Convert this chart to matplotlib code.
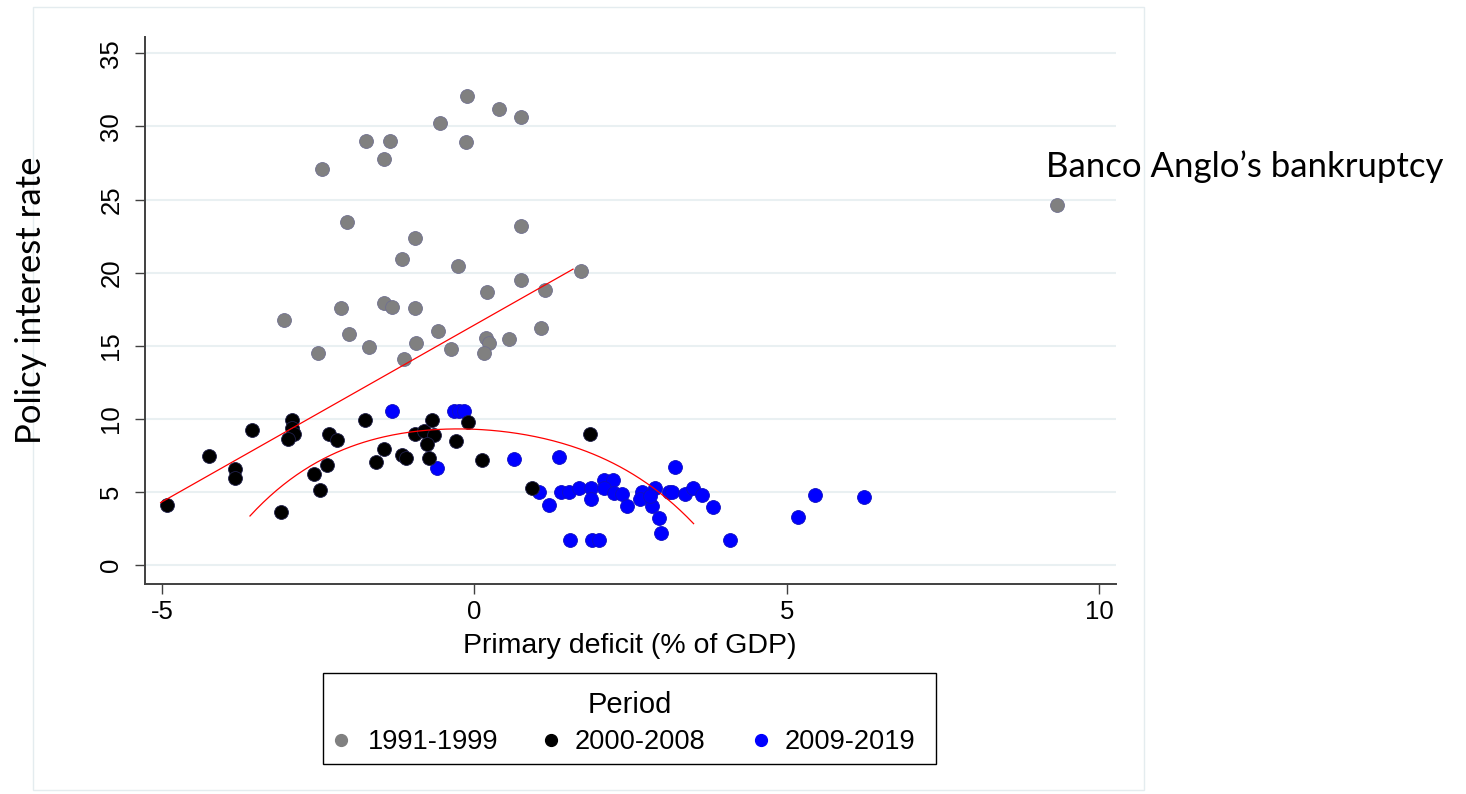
import numpy as np
import matplotlib.pyplot as plt
from matplotlib.patches import Rectangle
from matplotlib.lines import Line2D

plt.rcParams['font.family'] = ['Liberation Sans', 'DejaVu Sans']
plt.rcParams['axes.unicode_minus'] = False

# primary deficit (% of GDP) vs policy rate, by period
gray_x = [-0.12, 0.39, 0.75, -0.55, -1.73, -1.35, -0.14, -1.45, -2.44, -2.04, 0.75, -0.95,
          -1.16, -0.26, 1.70, 0.74, 0.20, 1.13, -2.14, -1.45, -1.31, -0.95, -3.04, -2.00,
          -0.58, 1.07, -1.69, -0.94, 0.19, 0.24, 0.56, -2.50, -1.13, -0.37, 0.16, 9.33]
gray_y = [32.06, 31.17, 30.65, 30.20, 28.99, 28.99, 28.94, 27.76, 27.08, 23.49, 23.17, 22.40,
          20.92, 20.46, 20.12, 19.51, 18.67, 18.80, 17.58, 17.96, 17.67, 17.58, 16.78, 15.80,
          16.00, 16.23, 14.94, 15.19, 15.53, 15.19, 15.50, 14.51, 14.12, 14.78, 14.51, 24.62]

black_x = [-4.91, -4.24, -3.83, -3.83, -3.56, -2.92, -2.92, -2.88, -2.98, -3.09, -2.57, -2.47,
           -2.35, -2.32, -2.20, -1.75, -1.58, -1.44, -1.16, -1.09, -0.95, -0.80, -0.67, -0.64,
           -0.76, -0.72, -0.30, -0.10, 0.13, 0.92, 1.85]
black_y = [4.14, 7.50, 6.59, 5.98, 9.23, 9.94, 9.39, 8.94, 8.66, 3.64, 6.25, 5.16,
           6.87, 9.00, 8.59, 9.96, 7.07, 7.98, 7.57, 7.30, 8.98, 9.21, 9.94, 8.89,
           8.32, 7.30, 8.50, 9.78, 7.18, 5.25, 8.98]

blue_x = [-1.31, -0.33, -0.25, -0.17, -0.60, 0.64, 1.36, 1.03, 1.19, 1.53, 1.88, 1.99,
          1.38, 1.51, 1.67, 1.86, 1.86, 2.07, 2.22, 2.07, 2.23, 2.36, 2.45, 2.69,
          2.66, 2.85, 2.90, 2.82, 2.96, 2.99, 3.11, 3.17, 3.21, 3.38, 3.50, 3.64,
          3.82, 4.09, 5.18, 5.46, 6.23]
blue_y = [10.57, 10.57, 10.57, 10.57, 6.62, 7.25, 7.43, 5.00, 4.09, 1.75, 1.75, 1.75,
          5.00, 5.00, 5.30, 5.30, 4.50, 5.80, 5.80, 5.30, 4.96, 4.84, 4.05, 5.00,
          4.50, 4.05, 5.30, 4.73, 3.20, 2.23, 5.00, 5.00, 6.75, 4.89, 5.30, 4.77,
          4.00, 1.75, 3.30, 4.77, 4.64]

periods = ['1991-1999', '2000-2008', '2009-2019']
period_colors = ['#808080', '#000000', '#0000ff']

# fitted lines: straight line (1991-2008) and curved fit (2000-2019)
lin_coef = [2.418, 16.42]
lin_range = (-5.02, 1.58)
curve_center = -0.26
curve_coef = [-0.012, 0.0167, -0.348, 0.0, 9.32]
curve_range = (-3.59, 3.51)

xticks = [-5, 0, 5, 10]
yticks = [0, 5, 10, 15, 20, 25, 30, 35]

W, H = 1466, 794
fig = plt.figure(figsize=(W / 100, H / 100), dpi=100)


def fx(px):
    return px / W


def fy(py):
    return 1 - py / H


# light border round the whole graph region
fig.add_artist(Rectangle((fx(33), fy(790)), fx(1144) - fx(33), fy(7) - fy(790),
                         transform=fig.transFigure, fill=False, edgecolor='#e4ecef', lw=1))

ax = fig.add_axes([fx(145), fy(583.7), fx(1116) - fx(145), fy(36.7) - fy(583.7)])
ax.set_xlim(-5.27, 10.27)
ax.set_ylim(-1.26, 36.13)

for v in yticks:
    ax.axhline(v, color='#e9f0f2', lw=1.5, zorder=0)

mk = dict(s=100, linewidths=0.6, zorder=2)
ax.scatter(gray_x, gray_y, color=period_colors[0], edgecolors='#707090', **mk)
ax.scatter(blue_x, blue_y, color=period_colors[2], edgecolors='#1010c0', **mk)
ax.scatter(black_x, black_y, color=period_colors[1], edgecolors='#20204a', **mk)

xl = np.linspace(*lin_range, 50)
ax.plot(xl, np.polyval(lin_coef, xl), color='red', lw=0.9, zorder=3)
xc = np.linspace(*curve_range, 200)
ax.plot(xc, np.polyval(curve_coef, xc - curve_center), color='red', lw=0.9, zorder=3)

for s in ['top', 'right']:
    ax.spines[s].set_visible(False)
for s in ['left', 'bottom']:
    ax.spines[s].set_color('#404040')
    ax.spines[s].set_linewidth(1.4)

ax.set_xticks(xticks)
ax.set_yticks(yticks)
ax.tick_params(axis='both', direction='out', length=7.2, width=1, color='#404040',
               labelsize=18.5)
ax.tick_params(axis='x', pad=4.3)
ax.tick_params(axis='y', pad=8.4)
for lab in ax.get_yticklabels():
    lab.set_rotation(90)
    lab.set_va('center')

fig.text(fx(630), fy(653), 'Primary deficit (% of GDP)', ha='center', va='baseline',
         fontsize=20.5)
fig.text(fx(31), fy(300.5), 'Policy interest rate', rotation=90, ha='center', va='center',
         fontsize=25, family=['Lato', 'DejaVu Sans'])
fig.text(fx(1046), fy(176.7), 'Banco Anglo\u2019s bankruptcy', ha='left', va='baseline',
         fontsize=25, family=['Lato', 'DejaVu Sans'])

# legend box
fig.add_artist(Rectangle((fx(323), fy(764)), fx(936) - fx(323), fy(673) - fy(764),
                         transform=fig.transFigure, fill=False, edgecolor='black', lw=1))
fig.text(fx(630), fy(712.7), 'Period', ha='center', va='baseline', fontsize=21)
marker_px = [341, 550.6, 760.7]
label_px = [367.6, 574.8, 785]
for name, col, mx, tx in zip(periods, period_colors, marker_px, label_px):
    fig.add_artist(Line2D([fx(mx)], [fy(740)], marker='o', ms=8.5, color=col, lw=0,
                          transform=fig.transFigure))
    fig.text(fx(tx), fy(749.3), name, ha='left', va='baseline', fontsize=19.6)

fig.savefig('out.png', dpi=100)
